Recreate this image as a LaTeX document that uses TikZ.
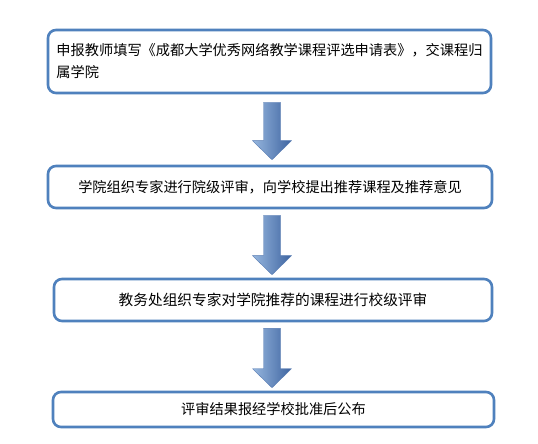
\documentclass[tikz,border=0pt]{standalone}
\usepackage{fontspec}
\newfontfamily\cjk{Noto Sans CJK SC}
\usetikzlibrary{calc}
\definecolor{boxblue}{RGB}{79,129,189}
\definecolor{arrL}{RGB}{150,182,222}
\definecolor{arrM}{RGB}{100,140,198}
\definecolor{arrR}{RGB}{62,100,160}
\definecolor{arrD}{RGB}{85,122,178}
\tikzset{
  stepbox/.style={draw=boxblue, line width=2.6bp, rounded corners=8bp, fill=white,
    inner sep=0pt, font=\cjk\fontsize{14.2bp}{22bp}\selectfont, text=black},
  arrowfill/.style={left color=arrL, middle color=arrM, right color=arrR, draw=arrD, line width=0.4bp}
}
\newcommand{\blockarrow}[2]{%
  \path[arrowfill] let \p1=(#1), \p2=(#2) in
    (\x1-8.5bp,\y1) -- (\x1+8.5bp,\y1) -- (\x1+8.5bp,\y2+19bp) -- (\x1+19.5bp,\y2+19bp)
    -- (\x1,\y2) -- (\x1-19.5bp,\y2+19bp) -- (\x1-8.5bp,\y2+19bp) -- cycle;}
\begin{document}
\begin{tikzpicture}[x=1bp,y=-1bp]
\useasboundingbox[fill=white] (0,0) rectangle (538,444);
\node[stepbox, minimum width=443bp, minimum height=63bp, align=left] (b1) at (269.5,61.5)
  {申报教师填写《成都大学优秀网络教学课程评选申请表》，交课程归\\属学院};
\node[stepbox, minimum width=444bp, minimum height=42bp] (b2) at (270,187)
  {学院组织专家进行院级评审，向学校提出推荐课程及推荐意见};
\node[stepbox, minimum width=438bp, minimum height=42bp, font=\cjk\fontsize{14.7bp}{22bp}\selectfont] (b3) at (273,300)
  {教务处组织专家对学院推荐的课程进行校级评审};
\node[stepbox, minimum width=441bp, minimum height=35bp] (b4) at (273.5,409.5)
  {评审结果报经学校批准后公布};
\coordinate (ax) at (272,0);
\coordinate (a1s) at ($(b1.south -| ax)+(0,8)$);
\coordinate (a1e) at ($(b2.north -| ax)+(0,-5)$);
\coordinate (a2s) at ($(b2.south -| ax)+(0,6)$);
\coordinate (a2e) at ($(b3.north -| ax)+(0,-3)$);
\coordinate (a3s) at ($(b3.south -| ax)+(0,6)$);
\coordinate (a3e) at ($(b4.north -| ax)+(0,-3)$);
\blockarrow{a1s}{a1e}
\blockarrow{a2s}{a2e}
\blockarrow{a3s}{a3e}
\end{tikzpicture}
\end{document}
